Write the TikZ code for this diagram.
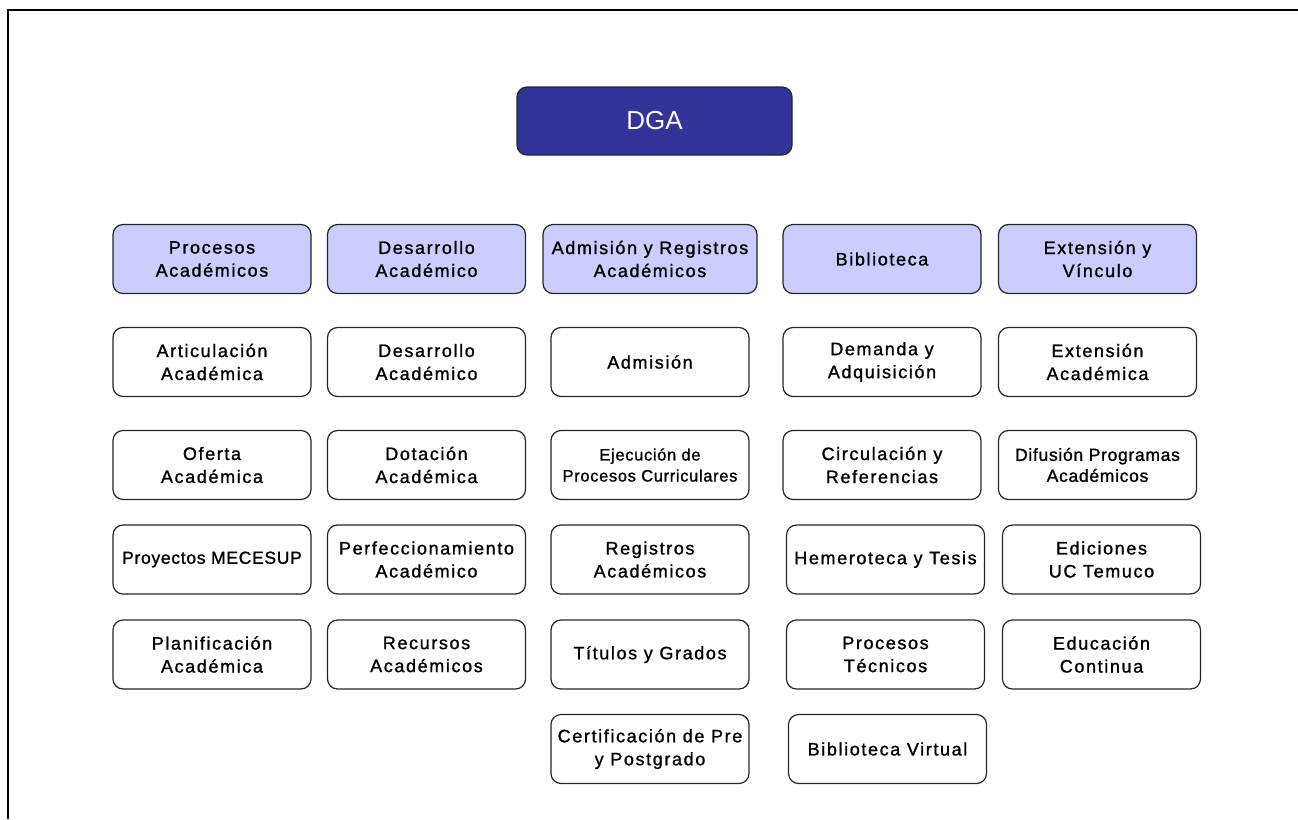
\documentclass[tikz,border=0pt]{standalone}
\usepackage{fontspec}
\newfontfamily\boxfont[LetterSpace=9, FakeBold=1.2]{Liberation Sans}
\newfontfamily\tightfont[LetterSpace=4, FakeBold=1.2]{Liberation Sans}
\newfontfamily\dgafont{Liberation Sans}
\newcommand{\tightlabel}{\tightfont\fontsize{17.5}{21}\selectfont}
\newcommand{\smalllabel}{\tightfont\fontsize{16.5}{21}\selectfont}
\definecolor{dgablue}{RGB}{51,51,153}
\definecolor{headfill}{RGB}{204,204,255}
\tikzset{
  unit/.style={draw=black!85, line width=1.2pt, rounded corners=10pt, minimum width=198pt,
    minimum height=69pt, inner sep=0pt, align=center, font=\boxfont\fontsize{18}{23}\selectfont},
  head/.style={unit, fill=headfill},
}

\begin{document}
\begin{tikzpicture}[x=1pt, y=-1pt]
  \useasboundingbox (0,0) rectangle (1298,819);
  \draw[line width=2pt] (8,819) -- (8,10) -- (1298,10);

  \node[unit, fill=dgablue, text=white, minimum width=275pt, minimum height=68pt,
    font=\dgafont\fontsize{26}{30}\selectfont] (dga) at (654.5,121) {DGA};

  \node[head] (proc) at (212,259) {Procesos\\Académicos};
  \node[head] (desa) at (426.5,259) {Desarrollo\\Académico};
  \node[head, minimum width=214pt] (adm) at (650,259) {Admisión y Registros\\Académicos};
  \node[head] (bib) at (882,259) {Biblioteca};
  \node[head] (ext) at (1097.5,259) {Extensión y\\Vínculo};

  \node[unit] (a1) at (212,362) {Articulación\\Académica};
  \node[unit] (a2) at (212,465) {Oferta\\Académica};
  \node[unit, font=\tightlabel] (a3) at (212,559.5) {Proyectos MECESUP};
  \node[unit] (a4) at (212,654.5) {Planificación\\Académica};

  \node[unit] (b1) at (426.5,362) {Desarrollo\\Académico};
  \node[unit] (b2) at (426.5,465) {Dotación\\Académica};
  \node[unit] (b3) at (426.5,559.5) {Perfeccionamiento\\Académico};
  \node[unit] (b4) at (426.5,654.5) {Recursos\\Académicos};

  \node[unit] (c1) at (650,362) {Admisión};
  \node[unit, font=\smalllabel] (c2) at (650,465) {Ejecución de\\Procesos Curriculares};
  \node[unit] (c3) at (650,559.5) {Registros\\Académicos};
  \node[unit] (c4) at (650,654.5) {Títulos y Grados};
  \node[unit] (c5) at (650,749) {Certificación de Pre\\y Postgrado};

  \node[unit] (d1) at (882,362) {Demanda y\\Adquisición};
  \node[unit] (d2) at (882,465) {Circulación y\\Referencias};
  \node[unit] (d3) at (885.5,559.5) {Hemeroteca y Tesis};
  \node[unit] (d4) at (885.5,654.5) {Procesos\\Técnicos};
  \node[unit] (d5) at (887.5,749) {Biblioteca Virtual};

  \node[unit] (e1) at (1097.5,362) {Extensión\\Académica};
  \node[unit, font=\tightlabel] (e2) at (1097.5,465) {Difusión Programas\\Académicos};
  \node[unit] (e3) at (1101.5,559.5) {Ediciones\\UC Temuco};
  \node[unit] (e4) at (1101.5,654.5) {Educación\\Continua};
\end{tikzpicture}
\end{document}
